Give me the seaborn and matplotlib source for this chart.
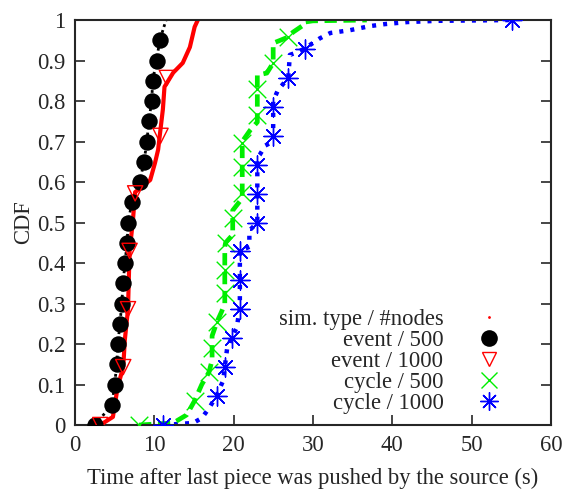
import matplotlib
matplotlib.use("Agg")
import matplotlib.pyplot as plt
from matplotlib.lines import Line2D
import seaborn as sns

# event / 500  (markers every 0.05)
ev500_x = [2.5, 4.7, 5.0, 5.3, 5.4, 5.7, 5.9, 6.1, 6.3, 6.6, 6.7, 7.2, 8.2, 8.7, 9.1, 9.3, 9.7, 9.8, 10.3, 10.7, 11.5]
ev500_y = [0, 0.05, 0.1, 0.15, 0.2, 0.25, 0.3, 0.35, 0.4, 0.45, 0.5, 0.55, 0.6, 0.65, 0.7, 0.75, 0.8, 0.85, 0.9, 0.95, 1.0]

# event / 1000 curve and markers
ev1000_x = [3.2, 4.8, 5.4, 6.1, 6.3, 6.7, 6.9, 7.3, 7.6, 9.5, 10.1, 10.5, 10.7, 11.1, 11.3, 12.4, 13.6, 14.5, 15.1, 15.5]
ev1000_y = [0, 0.02, 0.094, 0.143, 0.21, 0.286, 0.43, 0.5, 0.575, 0.605, 0.647, 0.68, 0.714, 0.78, 0.835, 0.87, 0.894, 0.933, 0.983, 1.0]
ev1000_mx = [3.2, 6.1, 6.7, 6.9, 7.6, 10.8, 11.6]
ev1000_my = [0, 0.143, 0.286, 0.43, 0.572, 0.714, 0.857]

# cycle / 500 curve and markers
cy500_x = [8.1, 12.4, 14.1, 15.1, 16.0, 16.9, 17.3, 17.3, 17.9, 18.5, 18.9, 18.9, 19.0, 19.9, 19.9, 21.1, 21.1,
           22.1, 23.0, 23.0, 24.2, 25.0, 25.0, 25.9, 26.9, 27.5, 29.0, 29.0, 30.0, 36.8]
cy500_y = [0, 0.005, 0.025, 0.06, 0.10, 0.13, 0.16, 0.22, 0.254, 0.28, 0.30, 0.44, 0.45, 0.47, 0.53, 0.56, 0.70,
           0.728, 0.748, 0.864, 0.869, 0.894, 0.943, 0.95, 0.958, 0.97, 0.99, 0.995, 0.998, 1.0]
cy500_mx = [8.1, 15.1, 16.9, 17.3, 17.9, 18.9, 18.9, 19.0, 19.9, 21.1, 21.1, 21.1, 23.0, 23.0, 25.0, 26.9]
cy500_my = [0, 0.06, 0.13, 0.19, 0.254, 0.326, 0.383, 0.45, 0.51, 0.573, 0.637, 0.696, 0.765, 0.83, 0.894, 0.958]

# cycle / 1000 curve and markers
cy1000_x = [11.1, 14.9, 16.0, 17.0, 17.9, 18.7, 18.9, 19.2, 19.8, 20.4, 20.8, 20.8, 22.0, 22.0, 22.5, 23.0, 23.0,
            23.3, 24.0, 25.0, 25.0, 25.6, 26.9, 27.1, 28.0, 29.0, 30.9, 32.2, 34.7, 37.2, 39.1, 41.9, 45.6, 55.1]
cy1000_y = [0, 0.005, 0.017, 0.044, 0.074, 0.11, 0.143, 0.19, 0.217, 0.24, 0.289, 0.43, 0.44, 0.48, 0.49, 0.50, 0.66,
            0.667, 0.69, 0.70, 0.80, 0.827, 0.857, 0.914, 0.92, 0.93, 0.955, 0.968, 0.975, 0.985, 0.99, 0.995, 0.998, 1.0]
cy1000_mx = [11.1, 17.9, 18.9, 19.8, 20.8, 20.8, 20.8, 23.0, 23.0, 23.0, 25.0, 25.0, 26.9, 29.0, 55.1]
cy1000_my = [0, 0.071, 0.143, 0.214, 0.286, 0.357, 0.429, 0.5, 0.571, 0.643, 0.714, 0.786, 0.857, 0.929, 1.0]

x_ticks = [0, 10, 20, 30, 40, 50, 60]
y_ticks = [0, 0.1, 0.2, 0.3, 0.4, 0.5, 0.6, 0.7, 0.8, 0.9, 1.0]
y_ticklabels = ["0", "0.1", "0.2", "0.3", "0.4", "0.5", "0.6", "0.7", "0.8", "0.9", "1"]
labels = ["sim. type / #nodes", "event / 500", "event / 1000", "cycle / 500", "cycle / 1000"]

sns.set_style("ticks")
SERIF = ['Liberation Serif', 'DejaVu Serif']
plt.rcParams['font.family'] = SERIF
plt.rcParams['font.size'] = 16
FS = 16.3

fig = plt.figure(figsize=(5.67, 4.91), dpi=100)
ax = fig.add_axes([0.132, 0.1344, 0.8395, 0.8248])

# lines
sns.lineplot(x=cy1000_x, y=cy1000_y, sort=False, ax=ax, color="#0000ff", lw=3.2,
             linestyle=(0, (0.9, 1.6)), estimator=None)
sns.lineplot(x=cy500_x, y=cy500_y, sort=False, ax=ax, color="#00ee00", lw=3.4,
             linestyle=(0, (2.6, 1.4)), estimator=None)
sns.lineplot(x=ev500_x, y=ev500_y, sort=False, ax=ax, color="black", lw=2,
             linestyle=(0, (1, 1.2)), estimator=None)
sns.lineplot(x=ev1000_x, y=ev1000_y, sort=False, ax=ax, color="#ff0000", lw=3,
             linestyle="-", estimator=None)

# markers
sns.scatterplot(x=ev500_x[:-1], y=ev500_y[:-1], ax=ax, color="black", s=140, marker="o", linewidth=0, zorder=3)
sns.scatterplot(x=ev1000_mx, y=ev1000_my, ax=ax, marker="v", s=120, facecolor="none",
                edgecolor="#ff0000", linewidth=1, zorder=4)
sns.scatterplot(x=cy500_mx, y=cy500_my, ax=ax, marker="x", s=160, color="#00ee00", linewidth=1, zorder=4)
sns.scatterplot(x=cy1000_mx, y=cy1000_my, ax=ax, marker=(8, 2, 0), s=190, color="#0000ff", linewidth=1, zorder=4)

ax.set_xlim(0, 60)
ax.set_ylim(0, 1)
ax.set_xticks(x_ticks, labels=[str(v) for v in x_ticks], fontfamily=SERIF, fontsize=FS)
ax.set_yticks(y_ticks, labels=y_ticklabels, fontfamily=SERIF, fontsize=FS)
ax.tick_params(direction="in", length=7, width=1.2, right=True, top=False, pad=7)
for s in ax.spines.values():
    s.set_linewidth(1.5)
    s.set_visible(True)
ax.set_xlabel("Time after last piece was pushed by the source (s)", fontsize=FS, labelpad=9)
ax.set_ylabel("CDF", fontsize=FS, labelpad=2)

handles = [
    Line2D([], [], ls="none", marker=".", ms=2, color="#ff0000"),
    Line2D([], [], ls="none", marker="o", ms=12, color="black", mew=0),
    Line2D([], [], ls="none", marker="v", ms=10, mfc="none", mec="#ff0000", mew=1),
    Line2D([], [], ls="none", marker="x", ms=12, color="#00ee00", mew=1),
    Line2D([], [], ls="none", marker=(8, 2, 0), ms=13, color="#0000ff", mew=1),
]
ax.legend(handles, labels, loc="lower right", bbox_to_anchor=(0.955, -0.012), frameon=False,
          markerfirst=False, handlelength=2.2, handletextpad=0.9, labelspacing=0.0,
          fontsize=FS, borderpad=0.2)

fig.savefig("out.png", dpi=100)
